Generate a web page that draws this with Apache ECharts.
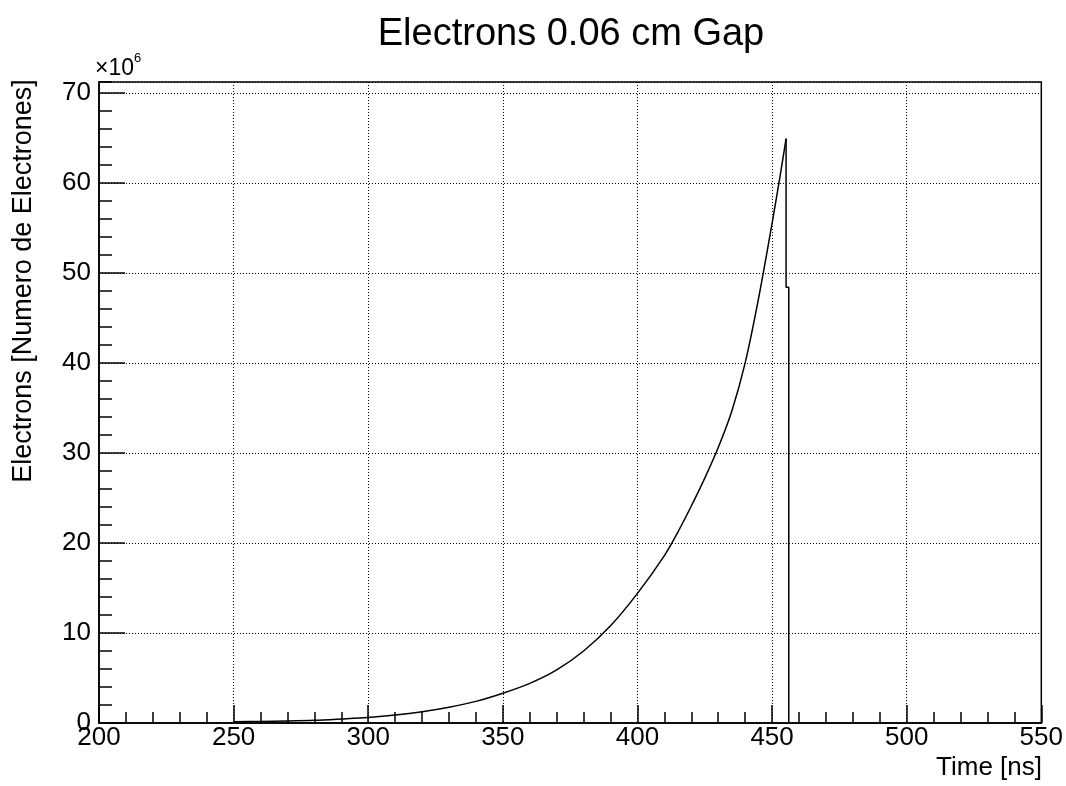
<!DOCTYPE html>
<html>
<head>
<meta charset="utf-8">
<title>Electrons 0.06 cm Gap</title>
<script src="https://cdn.jsdelivr.net/npm/echarts@6/dist/echarts.min.js"></script>
<style>
  html, body { margin: 0; padding: 0; background: #fff; }
  #chart { width: 1066px; height: 786px; }
</style>
</head>
<body>
<div id="chart"></div>
<script>
// values (time in ns, electrons in units of 10^6)
var timeNs = [250, 260, 270, 280, 290, 300, 310, 320, 330, 340, 350, 360, 370, 380, 390,
  400, 410, 415, 420, 425, 430, 435, 440, 445, 450, 453, 455.2];
var electrons = [0.15, 0.17, 0.22, 0.3, 0.45, 0.62, 0.88, 1.25, 1.75, 2.4, 3.3, 4.4, 5.9, 8.0, 10.8,
  14.4, 18.6, 21.2, 24.1, 27.2, 30.6, 34.6, 40.0, 47.2, 55.5, 60.8, 64.9];
// last bins: fall-off after the peak
var dropNs = [455.2, 455.2, 456.2, 456.2];
var dropElectrons = [64.9, 48.4, 48.4, 0];

var titleText = 'Electrons 0.06 cm Gap';
var xTitle = 'Time [ns]';
var yTitle = 'Electrons [Numero de Electrones]';

var font = '"Liberation Sans", Arial, Helvetica, sans-serif';

var chart = echarts.init(document.getElementById('chart'));

var points = timeNs.map(function (t, i) { return [t, electrons[i]]; });
var dropPoints = dropNs.map(function (t, i) { return [t, dropElectrons[i]]; });

var gridLine = { show: true, lineStyle: { color: '#000', width: 1, type: [1, 2] } };

chart.setOption({
  backgroundColor: '#fff',
  animation: false,
  textStyle: { fontFamily: font },
  grid: {
    left: 99,
    right: 24,
    top: 82,
    bottom: 63,
    show: true,
    borderColor: '#000',
    borderWidth: 1.5,
    backgroundColor: 'transparent'
  },
  graphic: [
    {
      type: 'text',
      x: 571,
      y: 35,
      style: { text: titleText, font: '38px ' + font, fill: '#000', align: 'center', verticalAlign: 'middle' }
    },
    {
      type: 'text',
      x: 1042,
      y: 768,
      style: { text: xTitle, font: '26px ' + font, fill: '#000', align: 'right', verticalAlign: 'middle' }
    },
    {
      type: 'text',
      x: 24,
      y: 281,
      rotation: Math.PI / 2,
      style: { text: yTitle, font: '27px ' + font, fill: '#000', align: 'center', verticalAlign: 'middle' }
    },
    {
      type: 'text',
      x: 95,
      y: 69,
      style: { text: '\u00d710', font: '23px ' + font, fill: '#000', align: 'left', verticalAlign: 'middle' }
    },
    {
      type: 'text',
      x: 134,
      y: 58,
      style: { text: '6', font: '13px ' + font, fill: '#000', align: 'left', verticalAlign: 'middle' }
    }
  ],
  xAxis: {
    type: 'value',
    min: 200,
    max: 550,
    interval: 50,
    axisLine: { show: true, onZero: false, lineStyle: { color: '#000', width: 1.5 } },
    axisTick: { show: true, inside: true, length: 18, lineStyle: { color: '#000', width: 1.5 } },
    minorTick: { show: true, splitNumber: 5, length: 11, lineStyle: { color: '#000', width: 1.5 } },
    axisLabel: { color: '#000', fontSize: 26, margin: 2, fontFamily: font },
    splitLine: gridLine
  },
  yAxis: [
    {
      type: 'value',
      min: 0,
      max: 71.2,
      interval: 10,
      position: 'left',
      axisLine: { show: true, onZero: false, lineStyle: { color: '#000', width: 1.5 } },
      axisTick: { show: true, inside: true, length: 26, lineStyle: { color: '#000', width: 1.5 } },
      axisLabel: { color: '#000', fontSize: 26, margin: 8, fontFamily: font, showMaxLabel: false },
      splitLine: gridLine
    },
    {
      // minor ticks only
      type: 'value',
      min: 0,
      max: 71.2,
      interval: 2,
      position: 'left',
      offset: 0,
      axisLine: { show: false },
      axisTick: { show: true, inside: true, length: 13, lineStyle: { color: '#000', width: 1.5 } },
      axisLabel: { show: false },
      splitLine: { show: false }
    }
  ],
  series: [
    {
      name: 'Electrons',
      type: 'line',
      data: points,
      showSymbol: false,
      smooth: 0.3,
      lineStyle: { color: '#000', width: 1.5 }
    },
    {
      name: 'Electrons drop',
      type: 'line',
      data: dropPoints,
      showSymbol: false,
      smooth: false,
      lineStyle: { color: '#000', width: 1.5 }
    }
  ]
});
</script>
</body>
</html>
